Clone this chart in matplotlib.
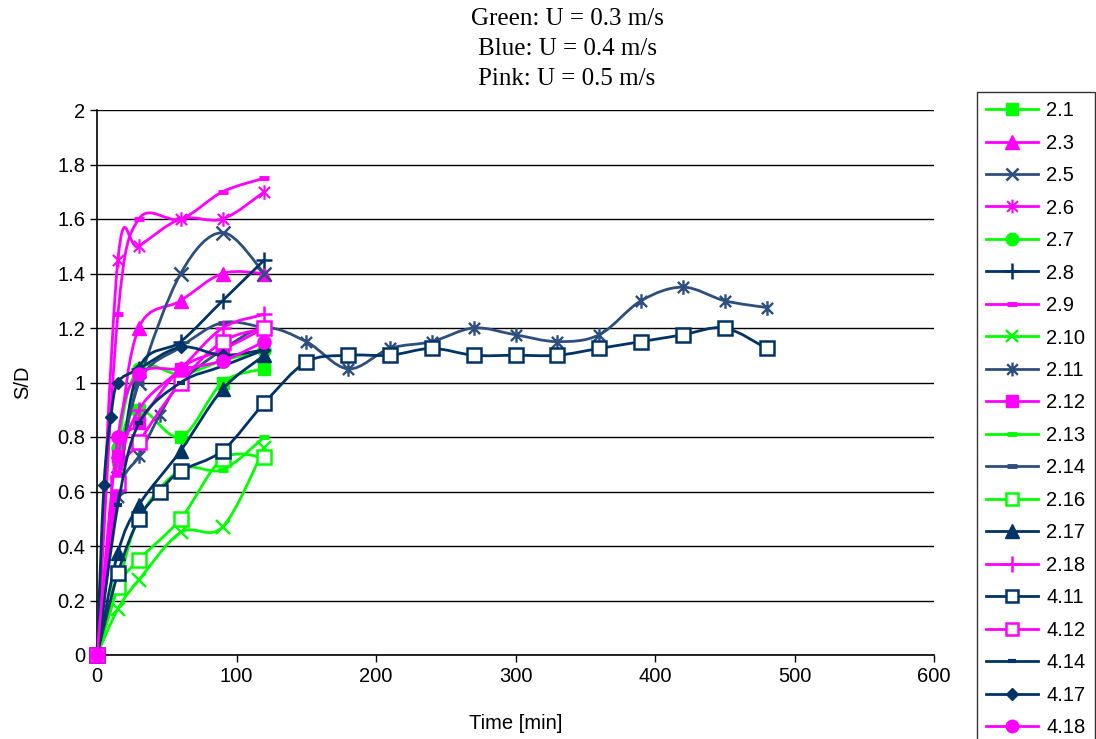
import numpy as np
import matplotlib
matplotlib.use("Agg")
import matplotlib.pyplot as plt
from matplotlib.path import Path
from matplotlib.patches import PathPatch
from matplotlib.lines import Line2D

# ---------------- data ----------------
labels = ["2.1", "2.3", "2.5", "2.6", "2.7", "2.8", "2.9", "2.10", "2.11", "2.12",
          "2.13", "2.14", "2.16", "2.17", "2.18", "4.11", "4.12", "4.14", "4.17", "4.18"]

t_std = [0, 15, 30, 60, 90, 120]
t_long = [0, 15, 30, 45, 60, 90, 120, 150, 180, 210, 240, 270, 300, 330, 360, 390, 420, 450, 480]
t_417 = [0, 5, 10, 15, 30, 60, 90, 120]

s_2_1 = [0, 0.72, 0.90, 0.80, 1.00, 1.05]
s_2_3 = [0, 0.75, 1.20, 1.30, 1.40, 1.40]
s_2_5 = [0, 0.65, 1.00, 1.40, 1.55, 1.40]
s_2_6 = [0, 1.45, 1.50, 1.60, 1.60, 1.70]
s_2_7 = [0, 0.76, 1.05, 1.03, 1.08, 1.12]
s_2_8 = [0, 0.60, 1.05, 1.15, 1.30, 1.45]
s_2_9 = [0, 1.25, 1.60, 1.60, 1.70, 1.75]
s_2_10 = [0, 0.17, 0.275, 0.45, 0.47, 0.76]
s_2_11 = [0, 0.58, 0.73, 0.88, 1.00, 1.12, 1.20, 1.15, 1.05, 1.125, 1.15, 1.20,
          1.175, 1.15, 1.175, 1.30, 1.35, 1.30, 1.275]
s_2_12 = [0, 0.73, 0.85, 1.05, 1.12, 1.20]
s_2_13 = [0, 0.25, 0.50, 0.68, 0.68, 0.80]
s_2_14 = [0, 0.60, 1.00, 1.13, 1.22, 1.20]
s_2_16 = [0, 0.25, 0.35, 0.50, 0.72, 0.725]
s_2_17 = [0, 0.375, 0.55, 0.75, 0.975, 1.10]
s_2_18 = [0, 0.65, 0.90, 1.05, 1.20, 1.25]
s_4_11 = [0, 0.30, 0.50, 0.60, 0.675, 0.75, 0.925, 1.075, 1.10, 1.10, 1.125, 1.10,
          1.10, 1.10, 1.125, 1.15, 1.175, 1.20, 1.125]
s_4_12 = [0, 0.63, 0.78, 1.00, 1.15, 1.20]
s_4_14 = [0, 0.55, 0.85, 1.00, 1.06, 1.12]
s_4_17 = [0, 0.625, 0.875, 1.00, 1.05, 1.13, 1.10, 1.12]
s_4_18 = [0, 0.80, 1.03, 1.05, 1.08, 1.15]

times = [t_std, t_std, t_std, t_std, t_std, t_std, t_std, t_std, t_long, t_std,
         t_std, t_std, t_std, t_std, t_std, t_long, t_std, t_std, t_417, t_std]
values = [s_2_1, s_2_3, s_2_5, s_2_6, s_2_7, s_2_8, s_2_9, s_2_10, s_2_11, s_2_12,
          s_2_13, s_2_14, s_2_16, s_2_17, s_2_18, s_4_11, s_4_12, s_4_14, s_4_17, s_4_18]

title_lines = ["Green: U = 0.3 m/s", "Blue: U = 0.4 m/s", "Pink: U = 0.5 m/s"]
x_ticks = [0, 100, 200, 300, 400, 500, 600]
y_ticks = [0, 0.2, 0.4, 0.6, 0.8, 1, 1.2, 1.4, 1.6, 1.8, 2]

# ---------------- styles ----------------
G = "#00FF00"
P = "#FF00FF"
N = "#003366"
S = "#2E4E7C"

asterisk = Path([(-1, -1), (1, 1), (-1, 1), (1, -1), (0, -1.3), (0, 1.3)],
                [Path.MOVETO, Path.LINETO, Path.MOVETO, Path.LINETO, Path.MOVETO, Path.LINETO])

styles = [
    dict(color=G, marker="s", ms=9, mfc=G),
    dict(color=P, marker="^", ms=10, mfc=P),
    dict(color=S, marker="x", ms=9.5, mfc=S, mew=1.8),
    dict(color=P, marker=asterisk, ms=10.5, mfc=P, mew=1.5),
    dict(color=G, marker="o", ms=9.5, mfc=G),
    dict(color=N, marker="+", ms=12, mfc=N, mew=1.8),
    dict(color=P, marker="_", ms=7, mfc=P, mew=3.5),
    dict(color=G, marker="x", ms=9.5, mfc=G, mew=1.7),
    dict(color=S, marker=asterisk, ms=10.5, mfc=S, mew=1.7),
    dict(color=P, marker="s", ms=9, mfc=P),
    dict(color=G, marker="_", ms=7, mfc=G, mew=3.5),
    dict(color=S, marker="_", ms=7, mfc=S, mew=3.5),
    dict(color=G, marker="s", ms=9.5, mfc="white", mew=1.8),
    dict(color=N, marker="^", ms=10, mfc=N),
    dict(color=P, marker="+", ms=12, mfc=P, mew=1.8),
    dict(color=N, marker="s", ms=9.5, mfc="white", mew=1.8),
    dict(color=P, marker="s", ms=9.5, mfc="white", mew=1.8),
    dict(color=N, marker="_", ms=6, mfc=N, mew=3),
    dict(color=N, marker="D", ms=6.5, mfc=N),
    dict(color=P, marker="o", ms=9.5, mfc=P),
]


def smooth_path(x, y):
    pts = np.column_stack([np.asarray(x, float), np.asarray(y, float)])
    n = len(pts)
    verts = [pts[0]]
    codes = [Path.MOVETO]
    for i in range(n - 1):
        p0 = pts[i - 1] if i > 0 else pts[i]
        p1 = pts[i]
        p2 = pts[i + 1]
        p3 = pts[i + 2] if i + 2 < n else pts[i + 1]
        c1 = p1 + (p2 - p0) / 6.0
        c2 = p2 - (p3 - p1) / 6.0
        verts += [c1, c2, p2]
        codes += [Path.CURVE4] * 3
    return Path(verts, codes)


plt.rcParams["font.family"] = ["Liberation Sans", "DejaVu Sans"]

fig = plt.figure(figsize=(10.96, 7.39), dpi=100)
ax = fig.add_axes([97 / 1096, 1 - 655 / 739, (934 - 97) / 1096, (655 - 110) / 739])

handles = []
for i, (lab, tx, vy, st) in enumerate(zip(labels, times, values, styles)):
    z = 3 + i * 0.1
    patch = PathPatch(smooth_path(tx, vy), fill=False, edgecolor=st["color"], lw=2.0, zorder=z)
    ax.add_patch(patch)
    ax.plot(tx, vy, ls="none", marker=st["marker"], ms=st["ms"], mfc=st["mfc"],
            mec=st["color"], mew=st.get("mew", 1.0), zorder=z + 0.05, clip_on=False)
    handles.append(Line2D([], [], color=st["color"], lw=2.0, marker=st["marker"],
                          ms=st["ms"] * 0.95, mfc=st["mfc"], mec=st["color"],
                          mew=st.get("mew", 1.0), label=lab))

ax.set_xlim(0, 600)
ax.set_ylim(0, 2)
ax.set_xticks(x_ticks)
ax.set_yticks(y_ticks)
ax.set_xticklabels([str(v) for v in x_ticks])
ax.set_yticklabels(["0" if v == 0 else ("1" if v == 1 else ("2" if v == 2 else f"{v:.1f}")) for v in y_ticks])
ax.tick_params(axis="both", labelsize=14.5, direction="out", length=5, width=1, color="black")
ax.yaxis.grid(True, color="black", lw=1)
ax.set_axisbelow(True)
for side in ["top", "right"]:
    ax.spines[side].set_visible(False)
for side in ["left", "bottom"]:
    ax.spines[side].set_color("black")
    ax.spines[side].set_linewidth(1.2)

ax.set_xlabel("Time [min]", fontsize=14.5, labelpad=20)
ax.set_ylabel("S/D", fontsize=14.5, labelpad=18)

for k, line in enumerate(title_lines):
    fig.text(567 / 1096, 1 - (19 + k * 30) / 739, line, ha="center", va="center",
             fontsize=18, family="Liberation Serif")

leg = fig.legend(handles=handles, loc="upper left", bbox_to_anchor=(977 / 1096, 1 - 92 / 739),
                 frameon=True, fancybox=False, edgecolor="black", fontsize=14.5,
                 handlelength=2.6, handletextpad=0.4, labelspacing=0.67, borderpad=0.45,
                 borderaxespad=0)
leg.get_frame().set_linewidth(1.0)

fig.savefig("out.png", dpi=100)
